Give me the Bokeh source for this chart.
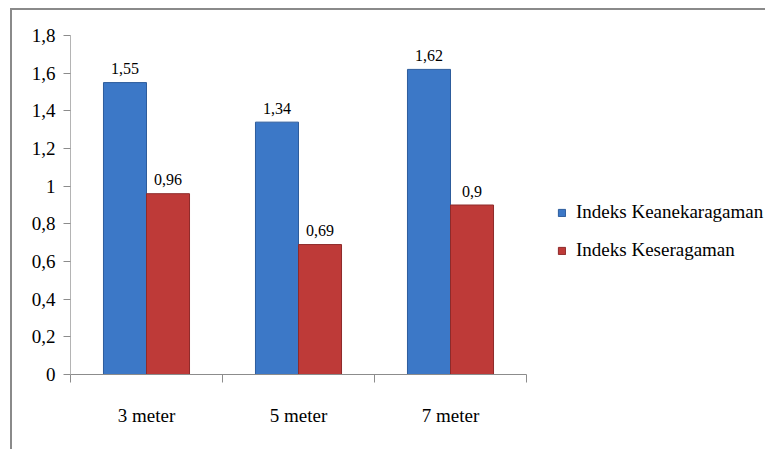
from bokeh.plotting import figure
from bokeh.layouts import gridplot
from bokeh.models import (ColumnDataSource, FixedTicker, Legend, LegendItem,
                          Range1d, InlineStyleSheet)
from bokeh.core.properties import value
from bokeh.embed import file_html
from bokeh.resources import INLINE

categories = ["3 meter", "5 meter", "7 meter"]
keanekaragaman = [1.55, 1.34, 1.62]
keseragaman = [0.96, 0.69, 0.9]
series_names = ["Indeks Keanekaragaman", "Indeks Keseragaman"]
y_ticks = [0, 0.2, 0.4, 0.6, 0.8, 1.0, 1.2, 1.4, 1.6, 1.8]
y_tick_labels = ["0", "0,2", "0,4", "0,6", "0,8", "1", "1,2", "1,4", "1,6", "1,8"]

FONT = "Liberation Serif"
BLUE = "#3c78c7"
RED = "#be3a38"
GRAY = "#8c8c8c"
BAR_W = 0.283

W, H = 765, 449
LEFT, TOP, BOTTOM = 70, 35, 75
CAT_PX = 152  # pixel width of one category slot


def fmt(v):
    return f"{v:g}".replace(".", ",")


n = len(categories)
centers = [i + 0.5 for i in range(n)]
src = ColumnDataSource(dict(
    xb=[c - BAR_W / 2 for c in centers],
    xr=[c + BAR_W / 2 for c in centers],
    blue=keanekaragaman,
    red=keseragaman,
    blue_lbl=[fmt(v) for v in keanekaragaman],
    red_lbl=[fmt(v) for v in keseragaman],
))

x_end = (W - LEFT) / CAT_PX
p = figure(width=W, height=H, x_range=Range1d(0, x_end),
           y_range=Range1d(0, 1.8), output_backend="svg", toolbar_location=None,
           min_border_left=LEFT, min_border_right=0, min_border_top=TOP,
           min_border_bottom=BOTTOM)
p.outline_line_color = None
p.xgrid.visible = False
p.ygrid.visible = False
p.background_fill_alpha = 0
p.border_fill_alpha = 0
p.styles = {
    "background": ("linear-gradient(#8a8a8a,#8a8a8a) 11px 8px / 100% 2px no-repeat, "
                   "linear-gradient(#8a8a8a,#8a8a8a) 10px 8px / 2px 100% no-repeat, white"),
}
p.stylesheets = [InlineStyleSheet(css="text { font-family: 'Liberation Serif', serif !important; }")]

rb = p.vbar(x="xb", top="blue", width=BAR_W, source=src, fill_color=BLUE,
            line_color="#2d5c9c", line_width=1)
rr = p.vbar(x="xr", top="red", width=BAR_W, source=src, fill_color=RED,
            line_color="#8e2a2a", line_width=1)

for xcol, ycol, lcol in (("xb", "blue", "blue_lbl"), ("xr", "red", "red_lbl")):
    p.text(x=xcol, y=ycol, text=lcol, source=src, text_align="center",
           text_baseline="alphabetic", y_offset=-14, text_font=value(FONT),
           text_font_size="16px", text_color="black")

# y axis
ya = p.yaxis[0]
ya.ticker = FixedTicker(ticks=y_ticks)
ya.major_label_overrides = {t: l for t, l in zip(y_ticks, y_tick_labels)}
ya.axis_line_color = "#b4b4b4"
ya.major_tick_line_color = GRAY
ya.major_tick_out = 7
ya.major_tick_in = 0
ya.minor_tick_line_color = None
ya.major_label_standoff = 8
ya.major_label_text_font = FONT
ya.major_label_text_font_size = "19px"
ya.major_label_text_color = "black"

# x axis
xa = p.xaxis[0]
xa.bounds = (0, n)
xa.ticker = FixedTicker(ticks=centers, minor_ticks=list(range(n + 1)))
xa.major_label_overrides = {c: l for c, l in zip(centers, categories)}
xa.axis_line_color = GRAY
xa.major_tick_line_color = None
xa.major_tick_out = 0
xa.major_tick_in = 0
xa.minor_tick_line_color = GRAY
xa.minor_tick_out = 8
xa.minor_tick_in = 0
xa.major_label_standoff = 22
xa.major_label_text_font = FONT
xa.major_label_text_font_size = "19px"
xa.major_label_text_color = "black"

legend = Legend(items=[LegendItem(label=series_names[0], renderers=[rb]),
                       LegendItem(label=series_names[1], renderers=[rr])],
                location=(487, 113), padding=0, margin=0,
                border_line_color=None, background_fill_alpha=0,
                glyph_width=9, glyph_height=9, label_standoff=10,
                spacing=16, label_height=22,
                label_text_font=FONT, label_text_font_size="19px",
                label_text_color="black")
p.add_layout(legend)

g = gridplot([[p]], toolbar_location=None)
open("out.html", "w").write(file_html(g, INLINE))
